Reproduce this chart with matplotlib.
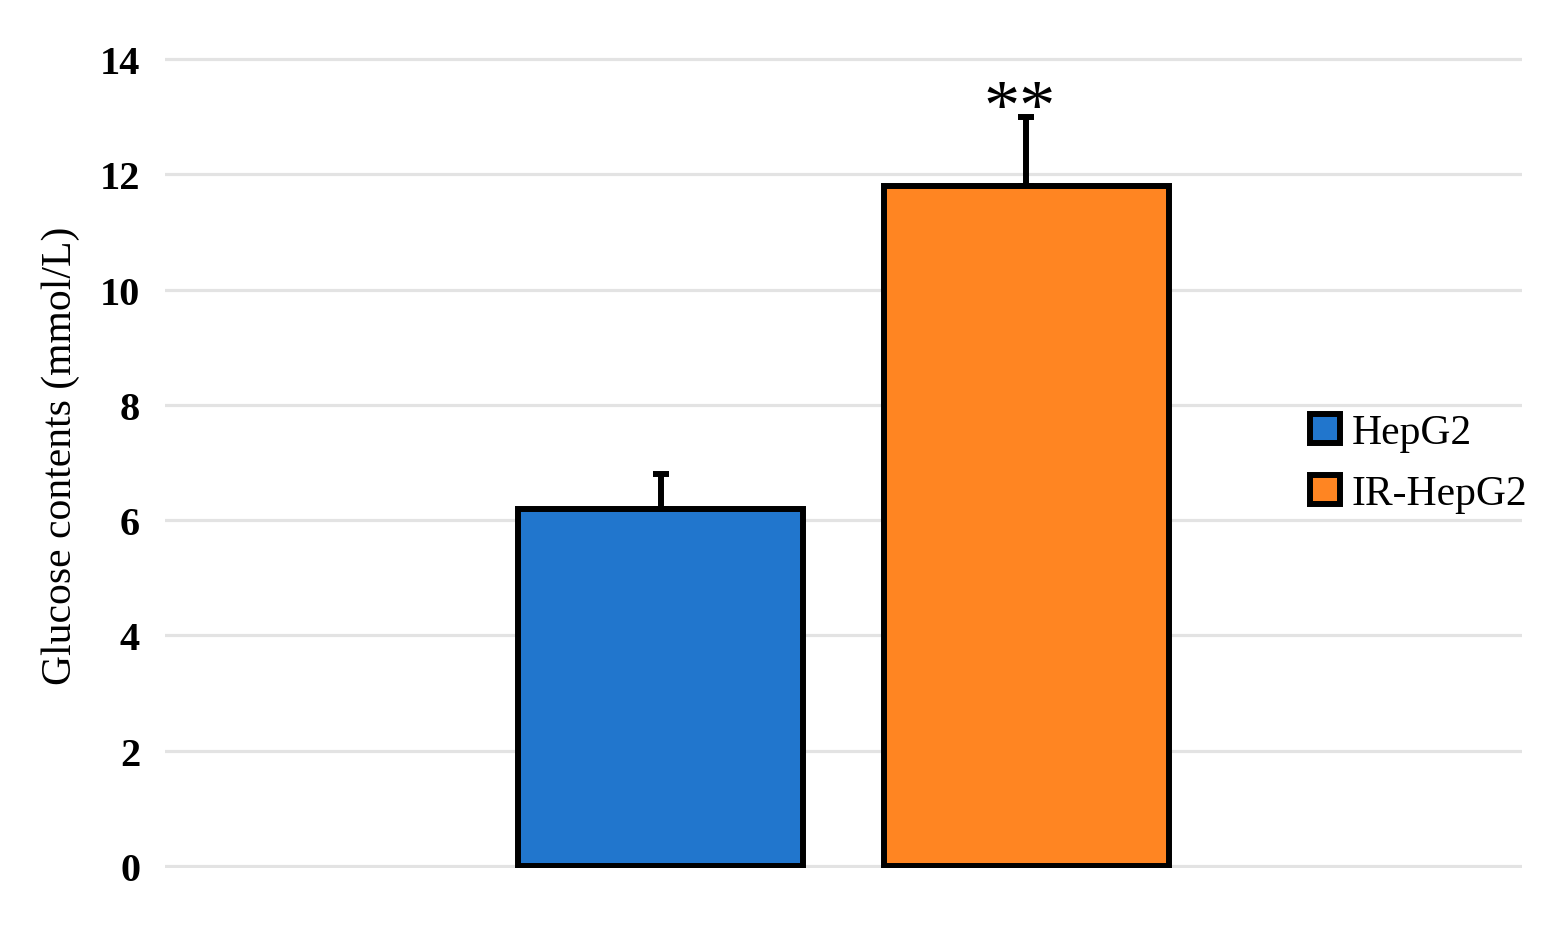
import numpy as np
import matplotlib.pyplot as plt

# ------------------------------------------------------------
# data
# ------------------------------------------------------------
groups = ["HepG2", "IR-HepG2"]
means = [6.2, 11.8]
errs = [0.6, 1.2]
sig = ["", "**"]
colors = ["#2176CD", "#FF8522"]

yticks = [0, 2, 4, 6, 8, 10, 12, 14]

plt.rcParams["font.family"] = ["Liberation Serif", "DejaVu Serif"]

fig = plt.figure(figsize=(15.6, 9.29), dpi=100)
ax = fig.add_axes([0.1058, 0.0643, 0.8698, 0.8898])

x = np.array([-0.5, 0.5])
for i in range(len(groups)):
    ax.bar(x[i], means[i], width=0.78, color=colors[i], edgecolor="black",
           linewidth=4.3, label=groups[i], zorder=3)
    ax.errorbar(x[i], means[i], yerr=[[0], [errs[i]]], fmt="none",
                ecolor="black", elinewidth=4.3, capsize=6, capthick=4.3,
                zorder=2)
    if sig[i]:
        ax.text(x[i] - 0.02, means[i] + errs[i] - 0.45, sig[i],
                ha="center", va="bottom", fontsize=52, zorder=4)

ax.set_xlim(-1.854, 1.854)
ax.set_ylim(-0.04, 14.3)
ax.set_yticks(yticks)
ax.set_yticklabels([str(t) for t in yticks], fontsize=29, fontweight="bold")
ax.tick_params(axis="y", length=0, pad=18)
ax.set_xticks([])
ax.yaxis.grid(True, color="#e3e3e3", linewidth=2.3, zorder=0)
ax.set_axisbelow(True)
for s in ax.spines.values():
    s.set_visible(False)

ax.set_ylabel("Glucose contents (mmol/L)", fontsize=30, labelpad=14)

leg = ax.legend(loc="center left", bbox_to_anchor=(0.816, 0.49), frameon=False,
                fontsize=30, handlelength=0.72, handleheight=0.72,
                handletextpad=0.29, labelspacing=0.54)

fig.savefig("out.png", dpi=100)
